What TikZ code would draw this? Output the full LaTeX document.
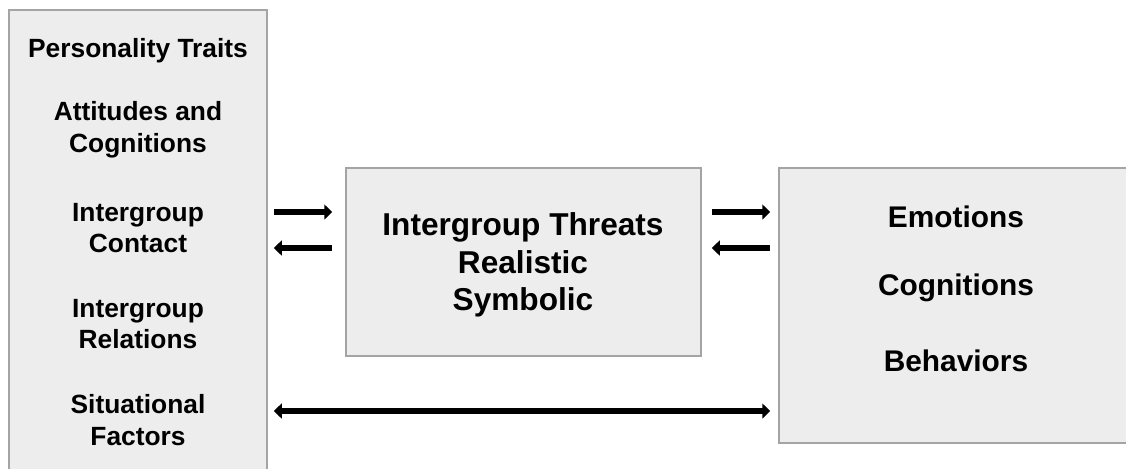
\documentclass[tikz,border=0pt]{standalone}
\usepackage{fontspec}
\setmainfont{Liberation Sans}
\usetikzlibrary{arrows.meta}
\definecolor{PanelFill}{HTML}{EDEDED}
\definecolor{PanelLine}{HTML}{A4A4A4}

\begin{document}
\begin{tikzpicture}[x=0.02cm, y=-0.02cm,
    panel/.style={shape=rectangle,
      draw=PanelLine,
      fill=PanelFill,
      line width=1pt,
      inner sep=0pt},
    factortext/.style={align=center, font=\fontsize{15}{18}\selectfont\bfseries},
    threattext/.style={align=center, font=\fontsize{18}{21.5}\selectfont\bfseries},
    outcometext/.style={align=center, font=\fontsize{17}{20}\selectfont\bfseries},
    flow/.style={line width=3.8pt, -{Triangle[width=8.5pt,length=4.5pt]}}]
    \useasboundingbox (0,0) rectangle (1126,468);
    \clip (0,0) rectangle (1126,468);

    % the three boxes
    \node[name=antecedents, panel,
      minimum width=5.16cm,
      minimum height=9.4cm] at (138,245) {};

    \node[name=threats, panel,
      minimum width=7.1cm,
      minimum height=3.76cm] at (523.5,262) {};

    \node[name=consequences, panel,
      minimum width=7.22cm,
      minimum height=5.5cm] at (959.5,305.5) {};

    % left column
    \node[name=traits, factortext] at (138,51) {Personality Traits};
    \node[name=attitudes, factortext] at (138,130) {Attitudes and\\Cognitions};
    \node[name=contact, factortext] at (138,228) {Intergroup\\Contact};
    \node[name=relations, factortext] at (138,324) {Intergroup\\Relations};
    \node[name=situation, factortext] at (138,420) {Situational\\Factors};

    % middle
    \node[name=threatlist, threattext] at (523,265) {Intergroup Threats\\Realistic\\Symbolic};

    % right column
    \node[name=emotions, outcometext] at (956,217) {Emotions};
    \node[name=cognitions, outcometext] at (956,288) {Cognitions};
    \node[name=behaviors, outcometext] at (956,361) {Behaviors};

    \coordinate (fwd) at (0,212);
    \coordinate (back) at (0,248);
    \coordinate (direct) at (0,411);

    \draw[flow, shorten <=0.12cm, shorten >=0.26cm]
      (antecedents.east |- fwd) -- (threats.west |- fwd);
    \draw[flow, shorten <=0.26cm, shorten >=0.12cm]
      (threats.west |- back) -- (antecedents.east |- back);
    \draw[flow, shorten <=0.2cm, shorten >=0.16cm]
      (threats.east |- fwd) -- (consequences.west |- fwd);
    \draw[flow, shorten <=0.16cm, shorten >=0.2cm]
      (consequences.west |- back) -- (threats.east |- back);
    \draw[flow, {Triangle[width=8.5pt,length=4.5pt]}-{Triangle[width=8.5pt,length=4.5pt]},
      shorten <=0.12cm, shorten >=0.16cm]
      (antecedents.east |- direct) -- (consequences.west |- direct);
\end{tikzpicture}
\end{document}
